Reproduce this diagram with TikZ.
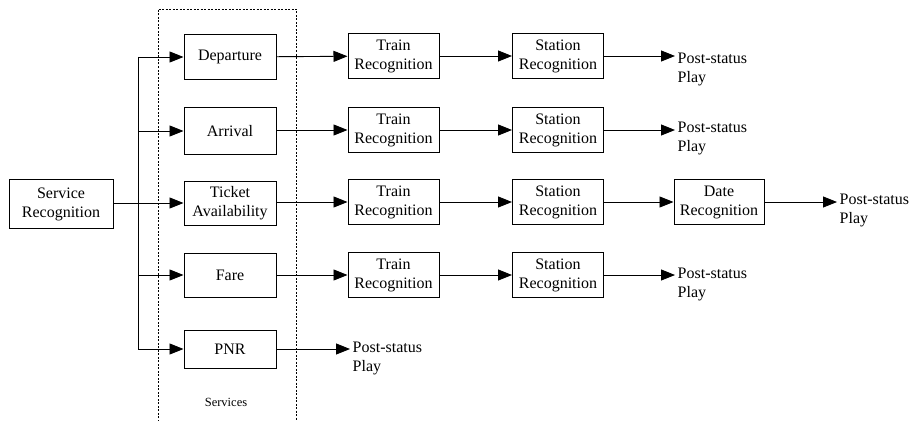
\documentclass[tikz,border=0pt]{standalone}
\usepackage{fontspec}
\setmainfont{Liberation Serif}
\usetikzlibrary{arrows.meta}
\begin{document}
\begin{tikzpicture}[x=1pt,y=-1pt,
  txt/.style={font=\fontsize{16}{19}\selectfont},
  blk/.style={draw,line width=1pt,txt,align=center,inner sep=0pt,minimum width=91pt,minimum height=45pt},
  post/.style={txt,align=left,anchor=west,inner sep=2.5pt},
  conn/.style={line width=0.9pt},
  arr/.style={conn,-{Triangle[length=14pt,width=11pt]}}]
\useasboundingbox (0,0) rectangle (912,420);
\fill[white] (0,0) rectangle (912,420);
% dashed services frame
\draw[line width=0.6pt,dash pattern=on 2pt off 1.5pt] (158,425) -- (158,9) -- (296,9) -- (296,425);
\node[txt,font=\fontsize{12.5}{15}\selectfont] (svc) at (226,402) {Services};
% nodes
\node[blk,minimum width=104pt,minimum height=49pt] (sr) at (61,204) {Service\\Recognition};
\node[blk,minimum width=92pt] (dep) at (230,57) {Departure};
\node[blk,minimum width=92pt,minimum height=47pt] (arv) at (230,131) {Arrival};
\node[blk,minimum width=92pt,minimum height=44pt] (tic) at (230,203) {Ticket\\Availability};
\node[blk,minimum width=92pt,minimum height=44pt] (far) at (230,275) {Fare};
\node[blk,minimum width=92pt,minimum height=38pt] (pnr) at (230,349) {PNR};
\node[blk] (tr1) at (393.5,56) {Train\\Recognition};
\node[blk] (tr2) at (393.5,130) {Train\\Recognition};
\node[blk] (tr3) at (393.5,202) {Train\\Recognition};
\node[blk] (tr4) at (393.5,275) {Train\\Recognition};
\node[blk] (st1) at (558,56) {Station\\Recognition};
\node[blk] (st2) at (558,130) {Station\\Recognition};
\node[blk] (st3) at (558,202) {Station\\Recognition};
\node[blk] (st4) at (558,275) {Station\\Recognition};
\node[blk,minimum width=90pt] (dt3) at (719,202) {Date\\Recognition};
\node[post] (p1) at (675,69) {Post-status\\Play};
\node[post] (p2) at (675,138) {Post-status\\Play};
\node[post] (p3) at (837,210) {Post-status\\Play};
\node[post] (p4) at (675,284) {Post-status\\Play};
\node[post] (p5) at (350,358) {Post-status\\Play};
% bus
\coordinate (btop) at (138,57);
\coordinate (bbot) at (138,350);
\draw[conn] (btop) -- (bbot);
\draw[arr] (sr.east |- tic) -- (tic.west);
\draw[arr] (btop) -- (dep.west);
\draw[arr] (btop |- arv) -- (arv.west);
\draw[arr] (btop |- far) -- (far.west);
\draw[arr] (btop |- pnr) -- (pnr.west);
% rows
\draw[arr] (dep) -- (tr1);
\draw[arr] (tr1) -- (st1);
\draw[arr] (st1.east) -- (p1.west |- st1.east);
\draw[arr] (arv.east |- tr2) -- (tr2);
\draw[arr] (tr2) -- (st2);
\draw[arr] (st2.east) -- (p2.west |- st2.east);
\draw[arr] (tic.east |- tr3) -- (tr3);
\draw[arr] (tr3) -- (st3);
\draw[arr] (st3) -- (dt3);
\draw[arr] (dt3.east) -- (p3.west |- dt3.east);
\draw[arr] (far) -- (tr4);
\draw[arr] (tr4) -- (st4);
\draw[arr] (st4.east) -- (p4.west |- st4.east);
\draw[arr] (pnr.east) -- (p5.west |- pnr.east);
\end{tikzpicture}
\end{document}
